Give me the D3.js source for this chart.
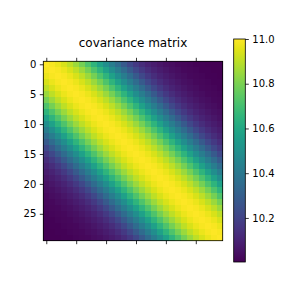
<!DOCTYPE html>
<html>
<head>
  <meta charset="UTF-8">
  <title>covariance matrix</title>
  <script src="https://cdn.jsdelivr.net/npm/d3@7"></script>
  <style>
    body { margin: 0; background: #fff; }
    text { font-family: "DejaVu Sans", sans-serif; fill: #000; }
  </style>
</head>
<body>
<script>
  const lagValues = [
    11.00, 10.99, 10.97, 10.94, 10.90, 10.85, 10.79, 10.72, 10.65, 10.57,
    10.49, 10.42, 10.35, 10.28, 10.22, 10.17, 10.13, 10.10, 10.08, 10.06,
    10.045, 10.035, 10.025, 10.02, 10.015, 10.01, 10.008, 10.006, 10.004, 10.003
  ];
  const rowIdx = d3.range(30);
  const axisTicks = [0, 5, 10, 15, 20, 25];
  const cbarTicks = [10.2, 10.4, 10.6, 10.8, 11.0];
  const titleText = "covariance matrix";

  // matrix cells built from the lag array
  const cells = [];
  rowIdx.forEach(i => rowIdx.forEach(j => cells.push({ i: i, j: j, v: lagValues[Math.abs(i - j)] })));

  const W = 288, H = 288;
  const img = { left: 43.3, right: 222.7, top: 61.3, bottom: 240.7 };
  const cb = { left: 233.7, right: 245.3, top: 39, bottom: 262 };

  const svg = d3.select("body").append("svg")
    .attr("width", W)
    .attr("height", H);

  const x = d3.scaleLinear().domain([-0.5, 29.5]).range([img.left, img.right]);
  const y = d3.scaleLinear().domain([-0.5, 29.5]).range([img.top, img.bottom]);
  const ext = d3.extent(lagValues);
  const color = d3.scaleSequential(d3.interpolateViridis).domain(ext);

  // heatmap cells
  svg.append("g").selectAll("rect")
    .data(cells)
    .enter()
    .append("rect")
    .attr("x", d => x(d.j - 0.5))
    .attr("y", d => y(d.i - 0.5))
    .attr("width", x(1) - x(0) + 0.3)
    .attr("height", y(1) - y(0) + 0.3)
    .attr("fill", d => color(d.v))
    .attr("shape-rendering", "crispEdges");

  // axes
  svg.append("g")
    .attr("transform", "translate(" + img.left + ",0)")
    .call(d3.axisLeft(y).tickValues(axisTicks).tickSize(3.5).tickPadding(3.5));

  svg.append("g")
    .attr("transform", "translate(0," + img.bottom + ")")
    .call(d3.axisBottom(x).tickValues(axisTicks).tickSize(3.5).tickFormat(""));

  svg.append("g")
    .attr("transform", "translate(0," + img.top + ")")
    .call(d3.axisTop(x).tickValues(axisTicks).tickSize(3.5).tickFormat(""));

  svg.selectAll(".domain").remove();
  svg.selectAll(".tick line").attr("stroke", "#000").attr("stroke-width", 0.8);
  svg.selectAll(".tick text").style("font-size", "10px").attr("fill", "#000");

  // frame
  svg.append("rect")
    .attr("x", img.left).attr("y", img.top)
    .attr("width", img.right - img.left).attr("height", img.bottom - img.top)
    .attr("fill", "none").attr("stroke", "#000").attr("stroke-width", 0.8);

  // title
  svg.append("text")
    .attr("x", (img.left + img.right) / 2)
    .attr("y", 47)
    .attr("text-anchor", "middle")
    .style("font-size", "12px")
    .text(titleText);

  // colorbar
  const defs = svg.append("defs");
  const grad = defs.append("linearGradient")
    .attr("id", "cbgrad")
    .attr("x1", "0").attr("y1", "1").attr("x2", "0").attr("y2", "0");
  d3.range(0, 1.0001, 0.05).forEach(t => {
    grad.append("stop")
      .attr("offset", t)
      .attr("stop-color", d3.interpolateViridis(t));
  });

  const cy = d3.scaleLinear().domain(ext).range([cb.bottom, cb.top]);

  svg.append("rect")
    .attr("x", cb.left).attr("y", cb.top)
    .attr("width", cb.right - cb.left).attr("height", cb.bottom - cb.top)
    .attr("fill", "url(#cbgrad)")
    .attr("stroke", "#000").attr("stroke-width", 0.8);

  const cbAxis = svg.append("g")
    .attr("transform", "translate(" + cb.right + ",0)")
    .call(d3.axisRight(cy).tickValues(cbarTicks).tickSize(3.5).tickPadding(3.5).tickFormat(d3.format(".1f")));
  cbAxis.select(".domain").remove();
  cbAxis.selectAll(".tick line").attr("stroke", "#000").attr("stroke-width", 0.8);
  cbAxis.selectAll(".tick text").style("font-size", "10px").attr("fill", "#000");
</script>
</body>
</html>
